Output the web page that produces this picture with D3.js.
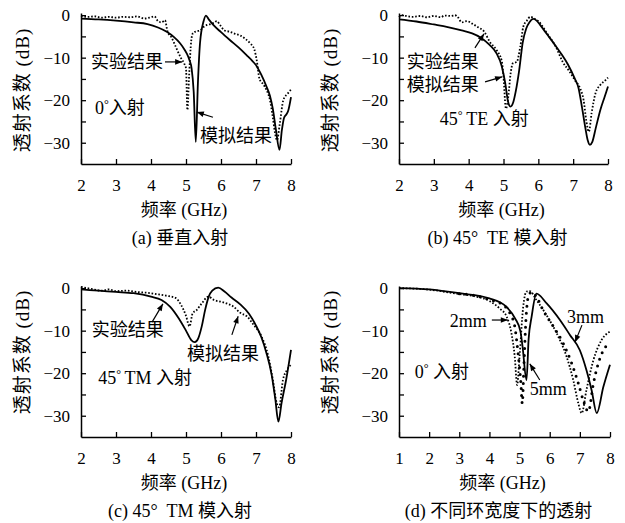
<!DOCTYPE html>
<html><head><meta charset="utf-8">
<script src="https://cdn.jsdelivr.net/npm/d3@7"></script>
<style>
html,body{margin:0;padding:0;background:#fff;}
svg text{font-family:"Liberation Serif","Noto Sans CJK SC",serif;fill:#000;white-space:pre;}
</style></head>
<body><svg id="chart" width="625" height="523"></svg>
<script>
// ---------- data (x in GHz, y in dB) ----------
const xTicksABC = [2,3,4,5,6,7,8];
const xTicksD = [1,2,3,4,5,6,7,8];
const yTicks = [-30,-25,-20,-15,-10,-5,0];
const yLabels = [-30,-20,-10,0];
const captions = ["(a) 垂直入射","(b) 45°\u00a0\u00a0TE 模入射","(c) 45°\u00a0\u00a0TM 模入射","(d) 不同环宽度下的透射"];
const xTitle = "频率 (GHz)";
const yTitle = "透射系数 (dB)";

const aSolid = [[2,-0.8],[2.5,-1.0],[3,-1.3],[3.5,-1.7],[3.9,-2.1],[4.2,-2.9],[4.45,-3.9],[4.65,-5.1],[4.83,-6.6],[4.95,-8],[5.02,-9],[5.1,-10.6],[5.16,-12.5],[5.22,-18],[5.28,-29.8],[5.34,-16],[5.4,-6.6],[5.5,-1.5],[5.57,-0.1],[5.65,-1.0],[5.78,-2.3],[6.0,-4],[6.26,-5.9],[6.5,-7.6],[6.73,-9.4],[6.9,-10.8],[7.02,-12],[7.15,-14],[7.3,-16.8],[7.4,-19],[7.48,-22],[7.57,-27],[7.67,-31.7],[7.74,-27],[7.8,-24.2],[7.87,-23.3],[7.92,-22.5],[8.0,-19.3]];
const aDotted = [[2,-0.2],[2.2,-0.4],[2.4,-0.3],[2.6,-0.6],[2.8,-0.4],[3.0,-0.6],[3.2,-0.4],[3.4,-0.5],[3.6,-0.3],[3.8,-0.8],[3.95,-0.6],[4.1,-0.3],[4.2,-1.4],[4.3,-1.7],[4.4,-1.2],[4.47,-3.8],[4.59,-5.3],[4.7,-7.3],[4.85,-10.0],[4.95,-11.4],[5.0,-12.5],[5.04,-22.3],[5.09,-14],[5.15,-6],[5.2,-4.2],[5.3,-3.8],[5.4,-3.6],[5.5,-2.8],[5.6,-2.3],[5.7,-2.1],[5.8,-1.8],[5.88,-1.4],[5.97,-2.3],[6.1,-3.6],[6.25,-3.9],[6.4,-4.4],[6.55,-4.8],[6.7,-5.6],[6.83,-6.6],[6.95,-8],[7.02,-10.6],[7.1,-15],[7.2,-16.2],[7.3,-17.6],[7.4,-20],[7.48,-24],[7.55,-28],[7.6,-29.4],[7.68,-25.5],[7.78,-20],[7.9,-18.5],[8.0,-17.5]];

const bSolid = [[2,-1.0],[2.5,-1.5],[3,-2.2],[3.4,-2.8],[3.8,-3.6],[4.1,-4.3],[4.35,-5.3],[4.6,-7.0],[4.8,-9],[4.95,-12],[5.05,-16],[5.13,-20.3],[5.2,-21.5],[5.28,-20.5],[5.35,-18],[5.45,-13],[5.55,-6.5],[5.65,-3.2],[5.75,-1.6],[5.85,-0.9],[5.95,-1.3],[6.05,-2.3],[6.25,-4.5],[6.45,-6.7],[6.65,-9],[6.85,-11.6],[7.05,-15],[7.15,-17],[7.25,-21.5],[7.35,-26.5],[7.42,-29.5],[7.48,-30.5],[7.55,-29.8],[7.65,-26.5],[7.78,-22.3],[7.9,-19.3],[8.0,-16.8]];
const bDotted = [[2,-0.5],[2.1,0],[2.2,-0.2],[2.4,-0.4],[2.6,-0.2],[2.8,-0.5],[3.0,-0.2],[3.2,-0.5],[3.3,-0.1],[3.5,-0.2],[3.6,0],[3.7,-0.6],[3.8,-1.7],[3.95,-1.4],[4.1,-2.0],[4.3,-3.0],[4.45,-3.9],[4.6,-6.2],[4.8,-8.2],[4.95,-10.8],[5.0,-14.5],[5.07,-22],[5.14,-19],[5.2,-14],[5.27,-11.3],[5.38,-11],[5.48,-7.5],[5.57,-2.7],[5.67,-1.3],[5.77,-0.4],[5.9,-0.9],[6.0,-1.4],[6.25,-4.3],[6.5,-7.4],[6.7,-11],[6.9,-13.3],[7.05,-15.3],[7.2,-17.2],[7.3,-20],[7.38,-25],[7.45,-27.4],[7.53,-23],[7.64,-18.4],[7.78,-16.4],[7.93,-15.3],[8.0,-14.7]];

const cSolid = [[2,-0.3],[2.5,-0.6],[3,-0.9],[3.5,-1.2],[4,-2.0],[4.3,-2.8],[4.55,-4.4],[4.8,-7.2],[5.0,-10],[5.15,-12.2],[5.25,-12.7],[5.35,-11.8],[5.45,-9],[5.55,-5],[5.65,-2.0],[5.75,-0.6],[5.92,0.1],[6.1,-0.8],[6.3,-2.2],[6.55,-3.8],[6.8,-6.0],[7.0,-8.8],[7.15,-11.5],[7.3,-15.3],[7.45,-20.5],[7.55,-26],[7.64,-31.4],[7.73,-27],[7.86,-21.6],[8.0,-14.5]];
const cDotted = [[2,0.3],[2.3,-0.2],[2.6,-0.6],[2.8,-0.3],[3.0,-0.7],[3.3,-0.6],[3.6,-0.9],[3.9,-1.1],[4.15,-1.4],[4.45,-1.8],[4.7,-2.3],[4.85,-3.8],[5.0,-6.5],[5.1,-9],[5.19,-5.9],[5.3,-5.2],[5.45,-3.6],[5.64,-2.0],[5.8,-2.8],[6.0,-3.2],[6.16,-3.6],[6.35,-4.3],[6.55,-5.8],[6.75,-6.7],[6.92,-8.5],[7.16,-11.4],[7.35,-16],[7.48,-21.5],[7.59,-27],[7.66,-28],[7.77,-21.6],[7.88,-19.3],[8.0,-18]];

const dSolid = [[1,0],[2,-0.3],[3,-1.2],[4,-2.4],[4.55,-4.3],[4.85,-7.1],[5.03,-10.2],[5.1,-13.8],[5.23,-21.6],[5.3,-12],[5.4,-6.7],[5.56,-1.3],[5.9,-3.6],[6.34,-7.5],[6.67,-11],[7.0,-14.6],[7.22,-19.3],[7.39,-24],[7.56,-29.4],[7.78,-23.2],[8.0,-18]];
const dFine = [[1,0],[2,-0.35],[3,-1.4],[3.5,-1.9],[4.0,-3.0],[4.34,-4.8],[4.57,-6.7],[4.73,-10.6],[4.84,-16.1],[4.92,-22.8],[5.0,-16],[5.12,-4.4],[5.23,-0.8],[5.34,-0.7],[5.56,-2.8],[5.89,-6.3],[6.23,-10.6],[6.56,-16.1],[6.78,-21.6],[6.95,-27.1],[7.06,-29.4],[7.22,-23.9],[7.45,-16.9],[7.72,-12.2],[8.0,-10.2]];
const dBig = [[3.0,-1.3],[3.5,-1.7],[4.0,-2.7],[4.46,-4.0],[4.68,-5.9],[4.84,-9],[4.95,-15.3],[5.04,-22],[5.09,-27.1],[5.14,-19],[5.21,-7.5],[5.29,-2.0],[5.4,-0.9],[5.56,-2.0],[5.78,-5.2],[6.12,-9],[6.45,-13],[6.73,-17.7],[6.95,-22.4],[7.11,-26.3],[7.28,-29],[7.45,-22.4],[7.61,-17.7],[7.78,-14.6],[8.0,-13]];

// annotations in data units: [text, x, y, anchor]
const aNotes = [["实验结果",4.34,-11,"end"],["模拟结果",5.4,-28.2,"start"]];
const aArrows = [[4.4,-11,4.89,-11],[5.77,-24,5.31,-22.8]];
const bNotes = [["实验结果",2.22,-10.8,"start"],["模拟结果",2.22,-16.2,"start"]];
const bArrows = [[4.18,-7.7,4.44,-4.4],[4.47,-15.7,4.96,-14.5]];
const cNotes = [["实验结果",2.31,-9.8,"start"],["模拟结果",5.03,-15.3,"start"]];
const cArrows = [[4.03,-8,4.34,-3.7],[6.31,-11,6.49,-6.6]];
const dNotes = [["2mm",2.68,-7.5,"start"],["3mm",6.57,-6.6,"start"],["5mm",5.34,-23.5,"start"]];
const dArrows = [[4.08,-7.5,4.61,-7.5],[7.07,-8.7,6.84,-12.7],[5.67,-21.6,5.34,-17.8]];
// incidence labels: [prefix, rest, x, y]
const incid = [["0","入射",2.4,-21.6],["45","\u2009TE 入射",3.17,-24.4],["45","\u2009TM 入射",2.49,-21.1],["0"," 入射",1.52,-19.7]];

// ---------- drawing ----------
const svg = d3.select("#chart");
const defs = svg.append("defs");
defs.append("marker").attr("id","ah").attr("viewBox","0 0 10 10").attr("refX",10).attr("refY",5)
  .attr("markerWidth",9).attr("markerHeight",7).attr("markerUnits","userSpaceOnUse").attr("orient","auto")
  .append("path").attr("d","M0,1 L10,5 L0,9 Z").attr("fill","#000");

const panels = [
  {xr:[81,291], yr:[164,13], xd:[2,8], xt:xTicksABC, series:[[aSolid,"solid"],[aDotted,"dot"]], notes:aNotes, arrows:aArrows, inc:incid[0], cap:captions[0], ytx:22, yty:90},
  {xr:[399,608], yr:[164,13], xd:[2,8], xt:xTicksABC, series:[[bSolid,"solid"],[bDotted,"dot"]], notes:bNotes, arrows:bArrows, inc:incid[1], cap:captions[1], ytx:330, yty:90},
  {xr:[81,291], yr:[437,286], xd:[2,8], xt:xTicksABC, series:[[cSolid,"solid"],[cDotted,"dot"]], notes:cNotes, arrows:cArrows, inc:incid[2], cap:captions[2], ytx:22, yty:352},
  {xr:[399,610], yr:[437,286], xd:[1,8], xt:xTicksD, series:[[dSolid,"solid"],[dFine,"dot"],[dBig,"big"]], notes:dNotes, arrows:dArrows, inc:incid[3], cap:captions[3], ytx:330, yty:352}
];

panels.forEach(p => {
  const x = d3.scaleLinear().domain(p.xd).range(p.xr);
  const y = d3.scaleLinear().domain([-35,0.5]).range(p.yr);
  const g = svg.append("g");
  const line = d3.line().x(d=>x(d[0])).y(d=>y(d[1])).curve(d3.curveMonotoneX);

  p.series.forEach(([data,style]) => {
    const path = g.append("path").datum(data).attr("d",line).attr("fill","none").attr("stroke","#000");
    if (style==="solid") path.attr("stroke-width",1.8);
    else if (style==="dot") path.attr("stroke-width",1.8).attr("stroke-dasharray","1.6,1.8");
    else path.attr("stroke-width",3).attr("stroke-dasharray","0,7").attr("stroke-linecap","round");
  });

  const xa = d3.axisBottom(x).tickValues(p.xt).tickSize(-5).tickSizeOuter(0).tickPadding(15).tickFormat(d3.format("d"));
  const ya = d3.axisLeft(y).tickValues(yTicks).tickSize(-5).tickSizeOuter(0).tickPadding(11)
    .tickFormat(d => yLabels.includes(d) ? d3.format("d")(d) : "");
  const gx = g.append("g").attr("transform",`translate(0,${p.yr[0]})`).call(xa);
  const gy = g.append("g").attr("transform",`translate(${p.xr[0]},0)`).call(ya);
  [gx,gy].forEach(a => {
    a.selectAll("path").attr("stroke","#000").attr("stroke-width",1.5);
    a.selectAll("line").attr("stroke","#000").attr("stroke-width",1.3);
    a.selectAll("text").attr("font-size",17).attr("font-family","Liberation Serif");
  });

  // axis titles and caption (explicit baselines)
  const cx = (p.xr[0]+p.xr[1])/2;
  g.append("text").attr("x",cx-2).attr("y",p.yr[0]+52).attr("text-anchor","middle")
    .attr("font-size",18).text(xTitle);
  g.append("text").attr("x",cx-6).attr("y",p.yr[0]+80).attr("text-anchor","middle")
    .attr("font-size",18).text(p.cap);
  g.append("text").attr("transform",`translate(${p.ytx},${p.yty}) rotate(-90)`).attr("text-anchor","middle")
    .attr("dy","0.36em").attr("font-size",19).attr("letter-spacing",1).text(yTitle);

  // annotations
  p.notes.forEach(([t,nx,ny,anc]) => {
    g.append("text").attr("x",x(nx)).attr("y",y(ny)).attr("dy","0.36em").attr("text-anchor",anc)
      .attr("font-size",18).text(t);
  });
  p.arrows.forEach(([x1,y1,x2,y2]) => {
    g.append("line").attr("x1",x(x1)).attr("y1",y(y1)).attr("x2",x(x2)).attr("y2",y(y2))
      .attr("stroke","#000").attr("stroke-width",1.2).attr("marker-end","url(#ah)");
  });
  const [pre,rest,ix,iy] = p.inc;
  const it = g.append("text").attr("x",x(ix)).attr("y",y(iy)+6.5).attr("font-size",18);
  it.append("tspan").text(pre);
  it.append("tspan").attr("font-size",12).attr("dy",-6).text("°");
  it.append("tspan").attr("dy",6).text(rest);
});
</script></body></html>
